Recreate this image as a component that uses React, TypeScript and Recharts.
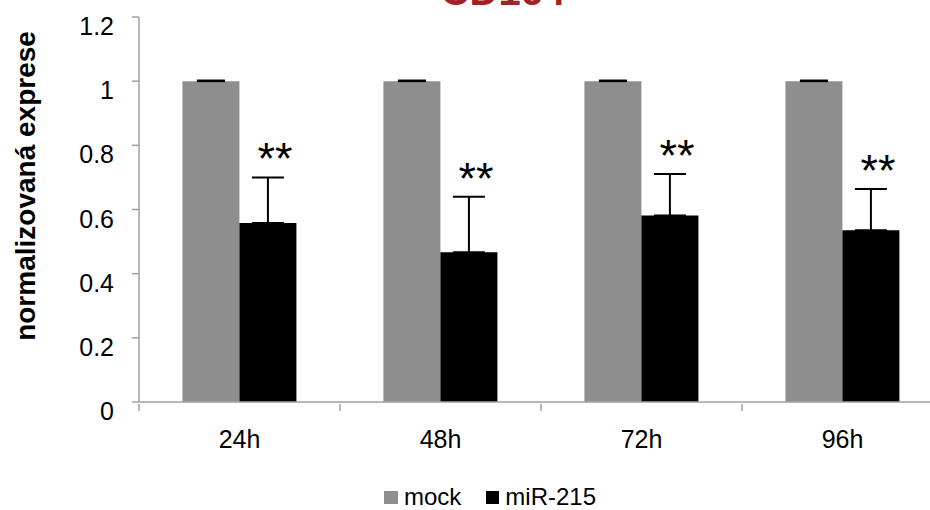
import React from 'react';
import { BarChart, Bar, XAxis, YAxis, ErrorBar, LabelList } from 'recharts';

const categories = ['24h', '48h', '72h', '96h'];
const mockValues = [1, 1, 1, 1];
const mockErr = [0.002, 0.002, 0.002, 0.002];
const mirValues = [0.558, 0.467, 0.581, 0.535];
const mirErr = [0.142, 0.173, 0.13, 0.129];
const stars = ['**', '**', '**', '**'];
const yTicks = [0, 0.2, 0.4, 0.6, 0.8, 1, 1.2];

const data = categories.map((c, i) => ({
  name: c,
  mock: mockValues[i],
  mockE: [0, mockErr[i]],
  mir: mirValues[i],
  mirE: [0, mirErr[i]],
}));

const FONT = '"Liberation Sans", Arial, sans-serif';
const AXIS = '#A0A0A0';

const XTick = (props: any) => {
  const { x, y, payload } = props;
  const off = payload.offset || 0;
  return (
    <g>
      <line x1={x - off} x2={x - off} y1={y - 7} y2={y} stroke={AXIS} strokeWidth={1.5} />
      <text x={x} y={y + 37} textAnchor="middle" fontSize={25} fontFamily={FONT} fill="#000">
        {payload.value}
      </text>
    </g>
  );
};

const YTick = (props: any) => {
  const { x, y, payload } = props;
  return (
    <text x={x} y={y + 18} textAnchor="end" fontSize={25} fontFamily={FONT} fill="#000">
      {String(payload.value)}
    </text>
  );
};

// "**" sits just above the top of each miR-215 error bar
const StarLabel = (props: any) => {
  const { x, y, width, height, index } = props;
  const v = mirValues[index];
  const pxPerUnit = height / v;
  const top = y - mirErr[index] * pxPerUnit;
  return (
    <text x={x + width / 2 + 7} y={top - 3} textAnchor="middle" fontSize={45} fontFamily={FONT} fill="#000">
      {stars[index]}
    </text>
  );
};

const YLabel = () => (
  <text
    x={0}
    y={0}
    transform="translate(35,186) rotate(-90)"
    textAnchor="middle"
    fontSize={28}
    fontWeight="bold"
    fontFamily={FONT}
    fill="#000"
  >
    normalizovaná exprese
  </text>
);

export default function App() {
  return (
    <div style={{ position: 'absolute', left: 0, top: 0, width: 930, height: 510, overflow: 'hidden', background: '#fff' }}>
      <svg width={930} height={30} style={{ position: 'absolute', left: 0, top: 0 }}>
        <text x={503} y={5} textAnchor="middle" fontSize={40} fontWeight="bold" fontFamily={FONT} fill="#A32024">
          CD164
        </text>
      </svg>
      <BarChart
        width={950}
        height={510}
        data={data}
        margin={{ top: 17, right: 7, bottom: 0, left: 0 }}
        barCategoryGap="21.6%"
        barGap={0}
      >
        <XAxis
          dataKey="name"
          stroke={AXIS}
          strokeWidth={1.5}
          tickLine={false}
          tickSize={7}
          tick={<XTick />}
          interval={0}
          height={108}
        />
        <YAxis
          domain={[0, 1.2]}
          ticks={yTicks}
          stroke={AXIS}
          strokeWidth={1.5}
          tickSize={7}
          tickMargin={18}
          tickLine={{ stroke: AXIS, strokeWidth: 1.5 }}
          tick={<YTick />}
          width={139}
          interval={0}
          label={<YLabel />}
        />
        <Bar dataKey="mock" fill="#8E8E8E" isAnimationActive={false} name="mock">
          <ErrorBar dataKey="mockE" width={14} stroke="#000" strokeWidth={2} direction="y" />
        </Bar>
        <Bar dataKey="mir" fill="#000" isAnimationActive={false} name="miR-215">
          <ErrorBar dataKey="mirE" width={16} stroke="#000" strokeWidth={2} direction="y" />
          <LabelList dataKey="mir" content={<StarLabel />} />
        </Bar>
      </BarChart>
      <div
        style={{
          position: 'absolute',
          left: 384,
          top: 483,
          display: 'flex',
          alignItems: 'center',
          fontFamily: FONT,
          fontSize: 24,
          color: '#000',
        }}
      >
        <span style={{ width: 14, height: 13, background: '#8E8E8E', display: 'inline-block', marginRight: 6 }} />
        <span style={{ marginRight: 25 }}>mock</span>
        <span style={{ width: 13, height: 13, background: '#000', display: 'inline-block', marginRight: 6 }} />
        <span>miR-215</span>
      </div>
    </div>
  );
}
